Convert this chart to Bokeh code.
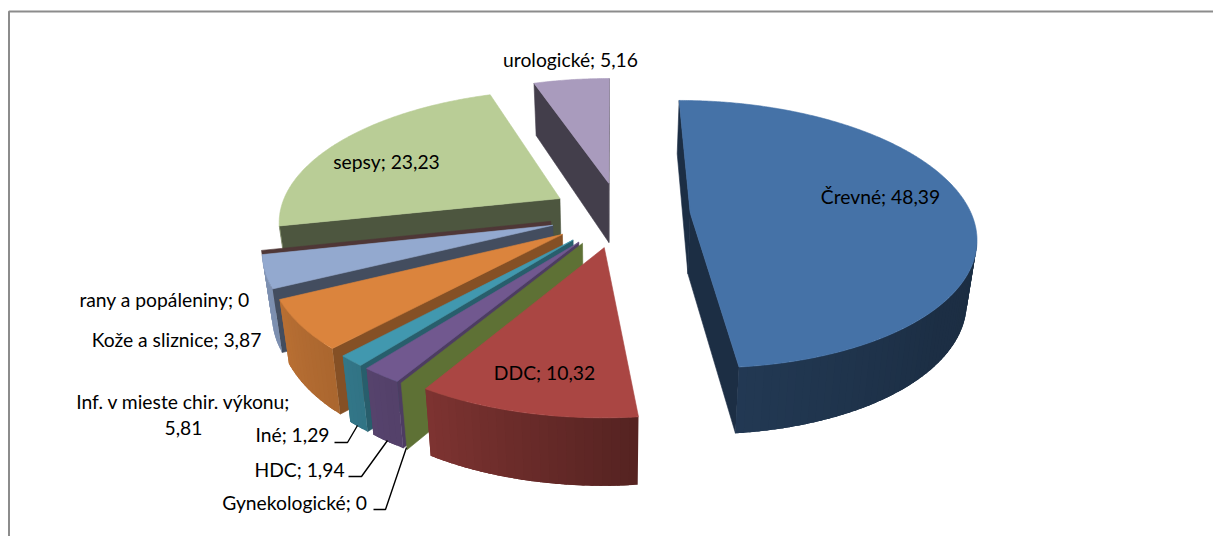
import numpy as np
from bokeh.plotting import figure
from bokeh.models import ColumnDataSource
from bokeh.core.properties import value
from bokeh.embed import file_html
from bokeh.resources import INLINE

# ---- data ----
names = ["Črevné", "DDC", "Gynekologické", "HDC", "Iné",
         "Inf. v mieste chir. výkonu", "Kože a sliznice", "rany a popáleniny", "sepsy", "urologické"]
values = [48.39, 10.32, 0, 1.94, 1.29, 5.81, 3.87, 0, 23.23, 5.16]

# ---- styles ----
top_colors = ["#4572A7", "#AA4643", "#89A54E", "#71588F", "#4198AF",
              "#DB843D", "#93A9CF", "#D19392", "#B9CD96", "#A99BBD"]
wall_factors = [0.41, 0.5, 0.69, 0.69, 0.62, 0.61, 0.46, 0.38, 0.42, 0.40]

# ---- label layout (screen pixels) ----
label_xy = [(880, 196), (544, 372), (294, 502), (299, 469), (292, 434),
            (183, 401), (176, 339), (164, 299), (386, 161), (570, 59)]
leaders = [[(334, 442), (347, 442), (357, 425)],
           [(348, 476), (361, 476), (387, 440)],
           [(373, 509), (385, 509), (406, 447)]]

# ---- projection of the tilted pie ----
VX, VY, C, K, A = 610.0, -600.0, 810.0, 0.16, 280.0
OX, OY, EXPLODE = 0.034, -0.03, 0.25
CAM = np.array([0.0, -1.0 / K])


def proj(X, Y, lower=False):
    w = 1 + K * Y
    sx = VX + A * X / w
    sy = VY + C / w
    if lower:
        sy = sy + float(np.interp(sy, [80, 210, 420], [52, 61, 68]))
        sx = VX + (sx - VX) * 0.972
    return float(sx), float(sy)


def d(t):
    r = np.radians(t)
    return np.array([np.sin(r), np.cos(r)])


def shade(hexcol, f):
    c = [int(hexcol[i:i + 2], 16) for i in (1, 3, 5)]
    return "#%02x%02x%02x" % tuple(int(min(255, v * f)) for v in c)


def arc_factor(t):
    return float(np.interp(t, [90, 130, 174, 211, 245, 258, 280],
                           [0.40, 0.41, 0.50, 0.74, 0.85, 0.87, 0.87]))


xs, ys, cols, las = [], [], [], []


def add(poly, col, la=1.0):
    xs.append([q[0] for q in poly])
    ys.append([q[1] for q in poly])
    cols.append(col)
    las.append(la)


def wall(P, t, col):
    Q = P + d(t)
    add([proj(*P), proj(*Q), proj(*Q, True), proj(*P, True)], col)


slices = []
cum = 0.0
for i, v in enumerate(values):
    a = cum * 3.6
    b = (cum + v) * 3.6
    cum += v
    m = (a + b) / 2
    P = np.array([OX, OY]) + EXPLODE * d(m)
    slices.append((P[1], i, a, b, P))

for _, i, a, b, P in sorted(slices, key=lambda s: -s[0]):
    col = top_colors[i]
    wc = shade(col, wall_factors[i])
    if a == b:
        wall(P, a, wc)
        continue
    if np.dot(CAM - P, d(a - 90)) > 0:
        wall(P, a, wc)
    if np.dot(CAM - P, d(b + 90)) > 0:
        wall(P, b, wc)
    ts = np.linspace(a, b, max(3, int((b - a) / 1.5) + 2))
    strips = [(t0, t1) for t0, t1 in zip(ts[:-1], ts[1:])
              if np.dot(CAM - (P + d((t0 + t1) / 2)), d((t0 + t1) / 2)) > 0]
    for t0, t1 in strips:
        # each strip runs under the next one, so that no seam shows between them
        t2 = min(strips[-1][1], t1 + 2.0)
        arc = np.linspace(t0, t2, 5)
        up = [proj(*(P + d(t))) for t in arc]
        low = [proj(*(P + d(t)), True) for t in arc[::-1]]
        add(up + low, shade(col, arc_factor((t0 + t1) / 2)), 0.0)
    rim = [proj(*(P + d(t))) for t in np.linspace(a, b, max(3, int(b - a) * 2))]
    add([proj(*P)] + rim, col)

# ---- figure: ranges equal screen pixels ----
W, Hgt = 1213, 536
p = figure(width=W, height=Hgt, x_range=(0, W), y_range=(Hgt, 0),
           toolbar_location=None, output_backend="svg", min_border=0)
p.axis.visible = False
p.grid.visible = False
p.outline_line_color = None
p.background_fill_color = "white"
p.border_fill_color = "white"

p.line([8.5, 8.5, W], [Hgt, 11, 11], line_color="#8c8c8c", line_width=2)
p.patches("xs", "ys", fill_color="c", line_color="c", line_alpha="la", line_width=0.6,
          source=ColumnDataSource(dict(xs=xs, ys=ys, c=cols, la=las)))
for seg in leaders:
    p.line([q[0] for q in seg], [q[1] for q in seg], line_color="black", line_width=1.4)


def fmt(v):
    return str(v).replace(".", ",")


txt, tx, ty = [], [], []
for n, v, (x, y) in zip(names, values, label_xy):
    if n.startswith("Inf."):
        txt += [n + ";", fmt(v)]
        tx += [x, x]
        ty += [y, y + 26]
    else:
        txt.append(f"{n}; {fmt(v)}")
        tx.append(x)
        ty.append(y)
p.text(tx, ty, text=txt, text_font=value("Lato"), text_font_size="19.3px",
       text_color="black", text_align="center", text_baseline="middle")

open("out.html", "w").write(file_html(p, INLINE))
